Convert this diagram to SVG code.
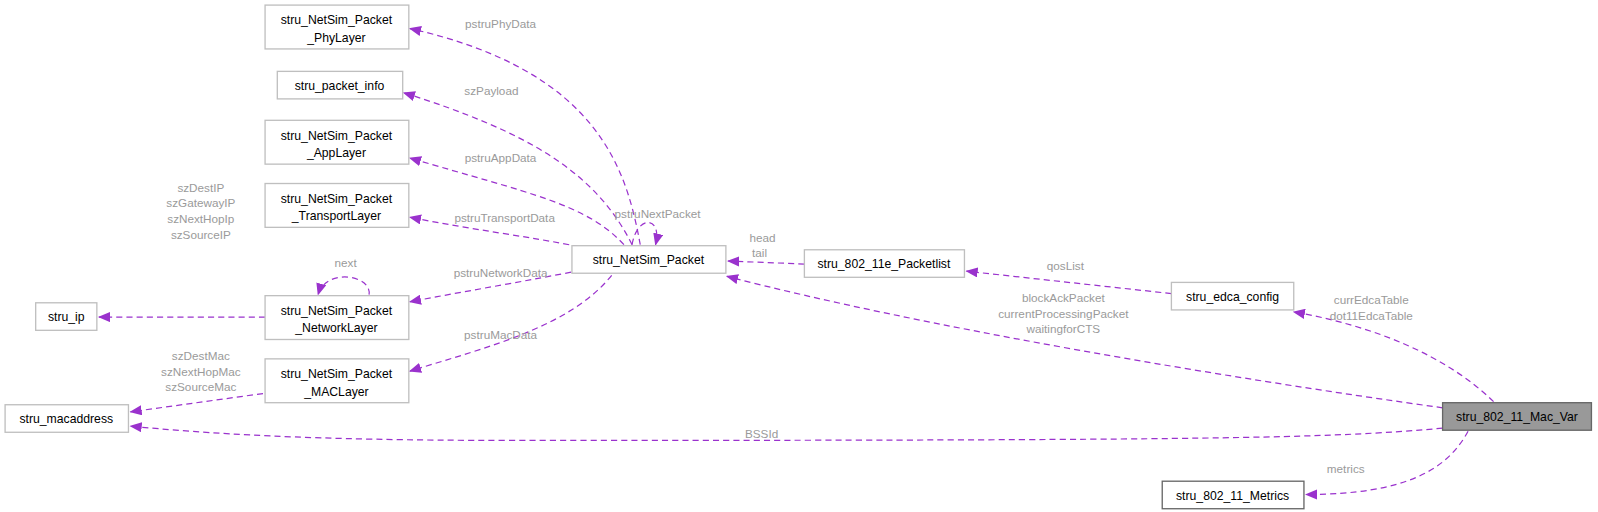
<svg xmlns="http://www.w3.org/2000/svg" width="1598" height="512" viewBox="0 0 1598 512">
<style>
.n rect{fill:#fff;stroke:#bfbfbf;stroke-width:1.3}
.n text{font-family:"Liberation Sans",Arial,sans-serif;font-size:12px;fill:#000;text-anchor:middle}
#mv rect{fill:#999;stroke:#666}
#met rect{stroke:#666}
.e path{fill:none;stroke:#9a32cd;stroke-width:1.2;stroke-dasharray:6,4;marker-end:url(#a)}
.l{font-family:"Liberation Sans",Arial,sans-serif;font-size:11.5px;fill:#9a9a9a;text-anchor:middle}
</style>
<defs><marker id="a" markerWidth="12" markerHeight="10" refX="11" refY="5" orient="auto" markerUnits="userSpaceOnUse"><path d="M0,0L12,5L0,10z" fill="#9a32cd"/></marker></defs>
<g transform="scale(1.0195)">
<g class="e">
<path d="M628,240C615,170 590,70 402,28"/>
<path d="M620,240C585,170 520,130 396,91"/>
<path d="M612,240C575,200 520,190 402,155"/>
<path d="M568,242C520,232 460,225 402,213"/>
<path d="M570,265C520,275 460,285 402,296"/>
<path d="M600,270C560,320 480,340 402,364"/>
<path d="M640,240C645,210 670,212 663,240" transform="translate(-20,0)"/>
<path d="M260,311L97,311"/>
<path d="M258,386L128,404"/>
<path d="M789,259L714,256"/>
<path d="M1149,288L948,266"/>
<path d="M1415,400C1200,370 900,320 713,271"/>
<path d="M1415,420C1300,430 1200,432 500,432C300,432 200,425 128,418"/>
<path d="M1465,394C1420,350 1350,320 1269,306"/>
<path d="M1440,423C1420,460 1380,485 1281,485"/>
<path d="M362,289C365,270 320,262 312,289"/>
</g>
<g class="l">
<text x="491" y="27">pstruPhyData</text>
<text x="482" y="93">szPayload</text>
<text x="491" y="159">pstruAppData</text>
<text x="495" y="218">pstruTransportData</text>
<text x="491" y="272">pstruNetworkData</text>
<text x="491" y="333">pstruMacData</text>
<text x="645" y="214">pstruNextPacket</text>
<text x="339" y="262">next</text>
<text x="197" y="188">szDestIP</text><text x="197" y="203">szGatewayIP</text><text x="197" y="219">szNextHopIp</text><text x="197" y="234">szSourceIP</text>
<text x="197" y="353">szDestMac</text><text x="197" y="369">szNextHopMac</text><text x="197" y="384">szSourceMac</text>
<text x="748" y="237">head</text><text x="745" y="252">tail</text>
<text x="1045" y="265">qosList</text>
<text x="1043" y="296">blockAckPacket</text><text x="1043" y="312">currentProcessingPacket</text><text x="1043" y="327">waitingforCTS</text>
<text x="1345" y="298">currEdcaTable</text><text x="1345" y="314">dot11EdcaTable</text>
<text x="747" y="430">BSSId</text>
<text x="1320" y="464">metrics</text>
</g>
<g id="phy" class="n"><rect x="260" y="5" width="141" height="43"/><text x="330" y="24">stru_NetSim_Packet</text><text x="330" y="41">_PhyLayer</text></g>
<g id="pi" class="n"><rect x="272" y="70" width="123" height="27"/><text x="333" y="88">stru_packet_info</text></g>
<g id="app" class="n"><rect x="260" y="118" width="141" height="43"/><text x="330" y="137">stru_NetSim_Packet</text><text x="330" y="154">_AppLayer</text></g>
<g id="tr" class="n"><rect x="260" y="180" width="141" height="43"/><text x="330" y="199">stru_NetSim_Packet</text><text x="330" y="216">_TransportLayer</text></g>
<g id="pk" class="n"><rect x="561" y="241" width="151" height="27"/><text x="636" y="259">stru_NetSim_Packet</text></g>
<g id="nw" class="n"><rect x="260" y="290" width="141" height="43"/><text x="330" y="309">stru_NetSim_Packet</text><text x="330" y="326">_NetworkLayer</text></g>
<g id="mac" class="n"><rect x="260" y="352" width="141" height="43"/><text x="330" y="371">stru_NetSim_Packet</text><text x="330" y="388">_MACLayer</text></g>
<g id="ip" class="n"><rect x="35" y="297" width="60" height="27"/><text x="65" y="315">stru_ip</text></g>
<g id="ma" class="n"><rect x="5" y="397" width="121" height="27"/><text x="65" y="415">stru_macaddress</text></g>
<g id="pl" class="n"><rect x="789" y="245" width="157" height="27"/><text x="867" y="263">stru_802_11e_Packetlist</text></g>
<g id="edca" class="n"><rect x="1149" y="277" width="120" height="27"/><text x="1209" y="295">stru_edca_config</text></g>
<g id="mv" class="n"><rect x="1415" y="395" width="146" height="27"/><text x="1488" y="413">stru_802_11_Mac_Var</text></g>
<g id="met" class="n"><rect x="1140" y="472" width="139" height="27"/><text x="1209" y="490">stru_802_11_Metrics</text></g>
</g>
</svg>
